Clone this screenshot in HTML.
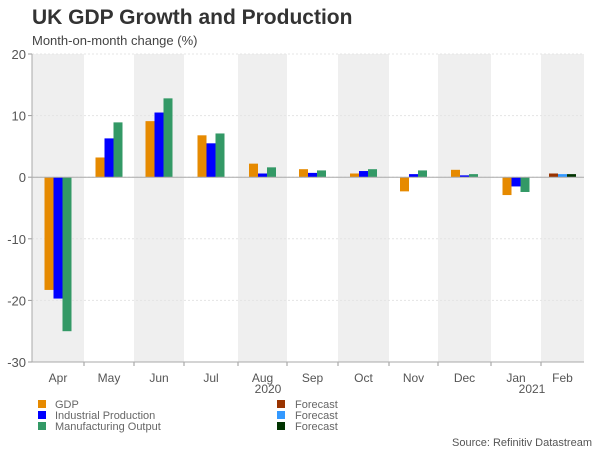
<!DOCTYPE html>
<html><head><meta charset="utf-8"><style>
body{margin:0;background:#fff;width:600px;height:450px;overflow:hidden;font-family:"Liberation Sans",sans-serif}
</style></head><body>
<svg id="chart" width="600" height="450" xmlns="http://www.w3.org/2000/svg" font-family="Liberation Sans, sans-serif">
<text x="32" y="24" font-size="21" font-weight="bold" fill="#333">UK GDP Growth and Production</text>
<text x="32" y="45" font-size="13" fill="#444">Month-on-month change (%)</text>
<g id="bands"></g><g id="grid"></g><g id="bars"></g><g id="axes"></g>
<text x="268" y="393" font-size="12" fill="#555" text-anchor="middle">2020</text>
<text x="532" y="393" font-size="12" fill="#555" text-anchor="middle">2021</text>
<g font-size="11" fill="#666">
<rect x="38" y="400" width="8" height="8" fill="#e68a00"/><text x="55" y="408">GDP</text>
<rect x="38" y="411" width="8" height="8" fill="#0000ff"/><text x="55" y="419">Industrial Production</text>
<rect x="38" y="422" width="8" height="8" fill="#339966"/><text x="55" y="430">Manufacturing Output</text>
<rect x="277" y="400" width="8" height="8" fill="#993300"/><text x="295" y="408">Forecast</text>
<rect x="277" y="411" width="8" height="8" fill="#3399ff"/><text x="295" y="419">Forecast</text>
<rect x="277" y="422" width="8" height="8" fill="#003300"/><text x="295" y="430">Forecast</text>
</g>
<text x="592" y="446" font-size="11" fill="#555" text-anchor="end">Source: Refinitiv Datastream</text>
</svg>
<script>
const months=["Apr","May","Jun","Jul","Aug","Sep","Oct","Nov","Dec","Jan","Feb"];
const gdp=[-18.3,3.2,9.1,6.8,2.2,1.3,0.6,-2.3,1.2,-2.9,0.6];
const ip=[-19.7,6.3,10.5,5.5,0.6,0.7,1.0,0.5,0.3,-1.5,0.5];
const mo=[-25.0,8.9,12.8,7.1,1.6,1.1,1.3,1.1,0.5,-2.4,0.5];
const forecastFlags=[0,0,0,0,0,0,0,0,0,0,1];
const yTicks=[20,10,0,-10,-20,-30];
const edges=[32,84,134,184,238,287,338,389,438,491,541,584];
const NS="http://www.w3.org/2000/svg";
const y0=54,y1=362,vmax=20,vmin=-30;
function y(v){return y0+(vmax-v)/(vmax-vmin)*(y1-y0);}
function mk(tag,attrs,parent){const e=document.createElementNS(NS,tag);for(const k in attrs)e.setAttribute(k,attrs[k]);document.getElementById(parent).appendChild(e);return e;}
months.forEach((m,i)=>{
  if(i%2===0){const b=mk('rect',{x:edges[i],y:y0,width:edges[i+1]-edges[i],height:y1-y0,fill:'#efefef'},'bands');
  
  }
});
yTicks.forEach(t=>{
  const g=mk('line',{x1:32,x2:584,y1:y(t),y2:y(t),stroke:'#e4e4e4','stroke-dasharray':'2,2'},'grid');
  
  
  const tk=mk('line',{x1:28,x2:32,y1:y(t),y2:y(t),stroke:'#999'},'axes');
  
  
  const l=mk('text',{x:26,y:y(t)+5,'font-size':13,fill:'#555','text-anchor':'end'},'axes');l.textContent=t;
  
  
});
const series=[[gdp,'#e68a00','#993300','gdp'],[ip,'#0000ff','#3399ff','ip'],[mo,'#339966','#003300','mo']];
const bw=9;
months.forEach((m,i)=>{
  const c=(edges[i]+edges[i+1])/2;
  series.forEach((s,j)=>{
    const v=s[0][i];const col=forecastFlags[i]?s[2]:s[1];
    const yy=Math.min(y(v),y(0)),h=Math.abs(y(v)-y(0));
    const r=mk('rect',{x:c-13.5+j*bw,y:yy,width:bw,height:Math.max(h,0.5),fill:col},'bars');
    
    
  });
  const l=mk('text',{x:c,y:382,'font-size':12,fill:'#555','text-anchor':'middle'},'axes');l.textContent=m;
  
  
  if(i>0){const t=mk('line',{x1:edges[i],x2:edges[i],y1:y1,y2:y1+4,stroke:'#999'},'axes');
  
  }
});
const z=mk('line',{x1:32,x2:584,y1:y(0),y2:y(0),stroke:'#aaa'},'axes');


const xa=mk('line',{x1:32,x2:584,y1:y1,y2:y1,stroke:'#aaa'},'axes');


const ya=mk('line',{x1:32,x2:32,y1:y0,y2:y1,stroke:'#aaa'},'axes');


</script>
</body></html>
